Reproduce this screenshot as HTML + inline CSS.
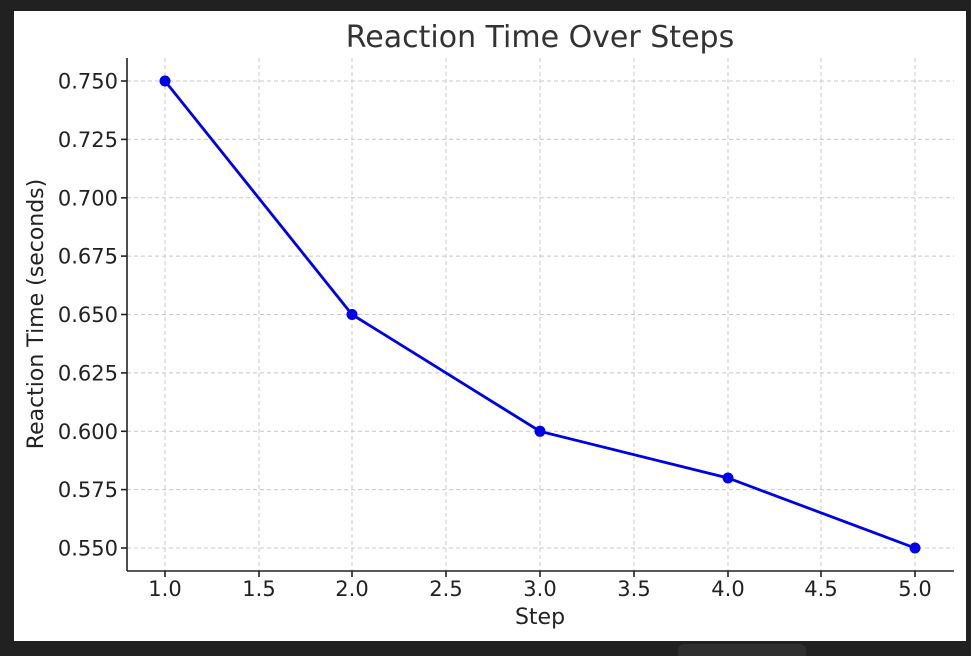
<!DOCTYPE html>
<html><head><style>
html,body{margin:0;padding:0;background:#212121;width:971px;height:656px;overflow:hidden}
</style></head><body>
<svg width="971" height="656" xmlns="http://www.w3.org/2000/svg" font-family="DejaVu Sans, Liberation Sans, sans-serif">
<rect x="0" y="0" width="971" height="656" fill="#212121"/>
<rect x="14" y="11" width="952" height="630" fill="#fff"/>
<rect x="678" y="644" width="128" height="20" rx="6" fill="#2f2f2f"/>
<g stroke="#c8c8c8" stroke-width="1" stroke-dasharray="4,3">
<line x1="165" y1="58" x2="165" y2="571"/><line x1="259" y1="58" x2="259" y2="571"/>
<line x1="352" y1="58" x2="352" y2="571"/><line x1="446" y1="58" x2="446" y2="571"/>
<line x1="540" y1="58" x2="540" y2="571"/><line x1="634" y1="58" x2="634" y2="571"/>
<line x1="728" y1="58" x2="728" y2="571"/><line x1="821" y1="58" x2="821" y2="571"/>
<line x1="915" y1="58" x2="915" y2="571"/>
<line x1="127" y1="81" x2="954" y2="81"/><line x1="127" y1="139.4" x2="954" y2="139.4"/>
<line x1="127" y1="197.8" x2="954" y2="197.8"/><line x1="127" y1="256.1" x2="954" y2="256.1"/>
<line x1="127" y1="314.5" x2="954" y2="314.5"/><line x1="127" y1="372.9" x2="954" y2="372.9"/>
<line x1="127" y1="431.3" x2="954" y2="431.3"/><line x1="127" y1="489.6" x2="954" y2="489.6"/>
<line x1="127" y1="548" x2="954" y2="548"/>
</g>
<g stroke="#222" stroke-width="1.6">
<line x1="127" y1="58" x2="127" y2="571"/><line x1="127" y1="571" x2="954" y2="571"/>
<line x1="121" y1="81" x2="127" y2="81"/><line x1="121" y1="139.4" x2="127" y2="139.4"/>
<line x1="121" y1="197.8" x2="127" y2="197.8"/><line x1="121" y1="256.1" x2="127" y2="256.1"/>
<line x1="121" y1="314.5" x2="127" y2="314.5"/><line x1="121" y1="372.9" x2="127" y2="372.9"/>
<line x1="121" y1="431.3" x2="127" y2="431.3"/><line x1="121" y1="489.6" x2="127" y2="489.6"/>
<line x1="121" y1="548" x2="127" y2="548"/>
<line x1="165" y1="571" x2="165" y2="577"/><line x1="259" y1="571" x2="259" y2="577"/>
<line x1="352" y1="571" x2="352" y2="577"/><line x1="446" y1="571" x2="446" y2="577"/>
<line x1="540" y1="571" x2="540" y2="577"/><line x1="634" y1="571" x2="634" y2="577"/>
<line x1="728" y1="571" x2="728" y2="577"/><line x1="821" y1="571" x2="821" y2="577"/>
<line x1="915" y1="571" x2="915" y2="577"/>
</g>
<g font-size="21" fill="#222" text-anchor="end">
<text x="118" y="88.5">0.750</text><text x="118" y="146.9">0.725</text>
<text x="118" y="205.3">0.700</text><text x="118" y="263.6">0.675</text>
<text x="118" y="322">0.650</text><text x="118" y="380.4">0.625</text>
<text x="118" y="438.8">0.600</text><text x="118" y="497.1">0.575</text>
<text x="118" y="555.5">0.550</text>
</g>
<g font-size="21" fill="#222" text-anchor="middle">
<text x="165" y="596">1.0</text><text x="259" y="596">1.5</text><text x="352" y="596">2.0</text>
<text x="446" y="596">2.5</text><text x="540" y="596">3.0</text><text x="634" y="596">3.5</text>
<text x="728" y="596">4.0</text><text x="821" y="596">4.5</text><text x="915" y="596">5.0</text>
<text x="540" y="624" font-size="22">Step</text>
<text x="540" y="47" font-size="30" fill="#333">Reaction Time Over Steps</text>
<text transform="translate(43,314) rotate(-90)" font-size="22">Reaction Time (seconds)</text>
</g>
<polyline points="165,81 352,314.5 540,431.3 728,478 915,548" fill="none" stroke="#0000e6" stroke-width="2.8"/>
<g fill="#0000e6">
<circle cx="165" cy="81" r="5.5"/><circle cx="352" cy="314.5" r="5.5"/><circle cx="540" cy="431.3" r="5.5"/>
<circle cx="728" cy="478" r="5.5"/><circle cx="915" cy="548" r="5.5"/>
</g>
</svg>
</body></html>
